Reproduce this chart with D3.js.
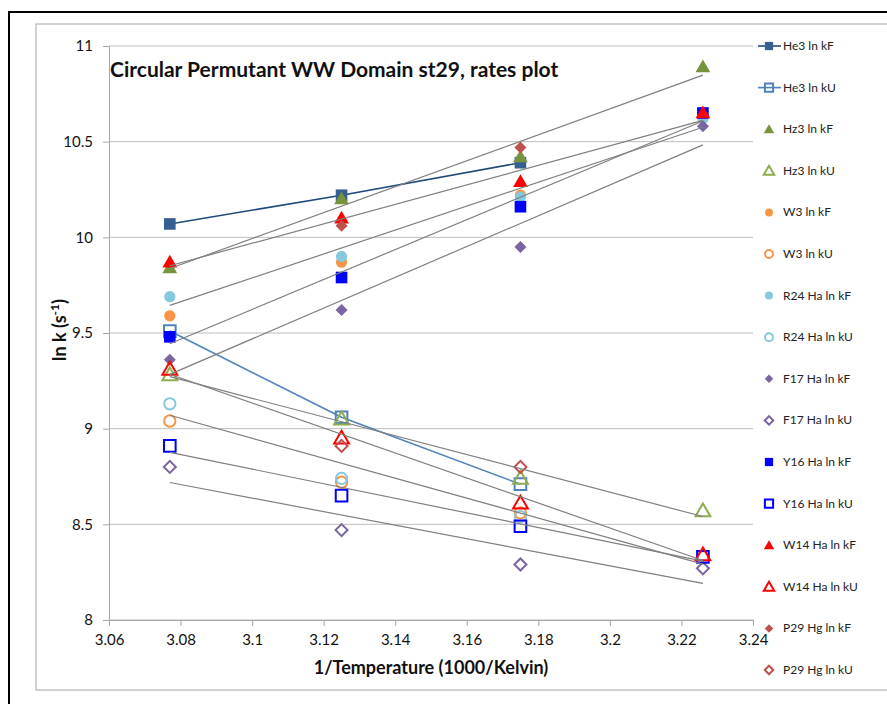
<!DOCTYPE html>
<html>
<head>
<meta charset="utf-8">
<script src="https://cdn.jsdelivr.net/npm/d3@7"></script>
<style>
  body { margin: 0; background: #fff; }
  svg text { font-family: Lato, "Open Sans", sans-serif; }
</style>
</head>
<body>
<div class="chart"></div>
<script>
// 1000/T for the four temperatures (325, 320, 315, 310 K)
var invTemp = [3.077, 3.125, 3.175, 3.226];

// ln k values (null = no point)
var he3KF = [10.07, 10.22, 10.39, null];
var he3KU = [9.51, 9.06, 8.71, null];
var hz3KF = [9.84, 10.20, 10.42, 10.89];
var hz3KU = [9.28, 9.05, 8.74, 8.57];
var w3KF = [9.59, 9.87, 10.22, null];
var w3KU = [9.04, 8.72, 8.56, null];
var r24KF = [9.69, 9.90, 10.21, 10.62];
var r24KU = [9.13, 8.74, 8.54, 8.33];
var f17KF = [9.36, 9.62, 9.95, 10.58];
var f17KU = [8.80, 8.47, 8.29, 8.27];
var y16KF = [9.48, 9.79, 10.16, 10.65];
var y16KU = [8.91, 8.65, 8.49, 8.33];
var w14KF = [9.87, 10.10, 10.29, 10.65];
var w14KU = [9.31, 8.95, 8.61, 8.34];
var p29KF = [null, 10.06, 10.47, null];
var p29KU = [null, 8.91, 8.80, null];

var seriesNames = ["He3 ln kF", "He3 ln kU", "Hz3 ln kF", "Hz3 ln kU", "W3 ln kF", "W3 ln kU",
  "R24 Ha ln kF", "R24 Ha ln kU", "F17 Ha ln kF", "F17 Ha ln kU", "Y16 Ha ln kF", "Y16 Ha ln kU",
  "W14 Ha ln kF", "W14 Ha ln kU", "P29 Hg ln kF", "P29 Hg ln kU"];
var seriesValues = [he3KF, he3KU, hz3KF, hz3KU, w3KF, w3KU, r24KF, r24KU,
  f17KF, f17KU, y16KF, y16KU, w14KF, w14KU, p29KF, p29KU];

var xTicks = [3.06, 3.08, 3.1, 3.12, 3.14, 3.16, 3.18, 3.2, 3.22, 3.24];
var yTicks = [8, 8.5, 9, 9.5, 10, 10.5, 11];

// styles per series, same order as names
var styles = [
  {color: "#376092", shape: "square", filled: true, line: "#1f4a7a"},
  {color: "#4f81bd", shape: "square", filled: false, line: "#4f81bd"},
  {color: "#77933c", shape: "triangle", filled: true, trend: true},
  {color: "#8fad4f", shape: "triangle", filled: false, trend: true},
  {color: "#f79646", shape: "circle", filled: true},
  {color: "#f79646", shape: "circle", filled: false},
  {color: "#86c9dc", shape: "circle", filled: true, trend: true},
  {color: "#86c9dc", shape: "circle", filled: false, trend: true},
  {color: "#7b64a2", shape: "diamond", filled: true, trend: true},
  {color: "#7b64a2", shape: "diamond", filled: false, trend: true},
  {color: "#0000ff", shape: "square", filled: true, trend: true},
  {color: "#0000ff", shape: "square", filled: false, trend: true},
  {color: "#ff0000", shape: "triangle", filled: true, trend: true},
  {color: "#ff0000", shape: "triangle", filled: false, trend: true},
  {color: "#c0504d", shape: "diamond", filled: true},
  {color: "#c0504d", shape: "diamond", filled: false}
];

var series = seriesNames.map(function(name, i) {
  return {
    name: name,
    points: invTemp.map(function(x, j) { return {x: x, y: seriesValues[i][j]}; })
      .filter(function(p) { return p.y !== null; }),
    style: styles[i]
  };
});

var svgWidth = 887, svgHeight = 704;
var margin = {top: 46, left: 109, right: 134, bottom: 84};
var width = svgWidth - margin.left - margin.right;
var height = svgHeight - margin.top - margin.bottom;

var svg = d3.select(".chart").append("svg")
  .attr("width", svgWidth)
  .attr("height", svgHeight);

// outer frame and chart area border
svg.append("rect")
  .attr("x", 9).attr("y", 12).attr("width", 900).attr("height", 720)
  .attr("fill", "none").attr("stroke", "#000").attr("stroke-width", 2);
svg.append("rect")
  .attr("x", 36).attr("y", 24).attr("width", 880).attr("height", 666)
  .attr("fill", "#fff").attr("stroke", "#b3b3b3").attr("stroke-width", 1.2);

var chartGroup = svg.append("g")
  .attr("transform", `translate(${margin.left}, ${margin.top})`);

var xScale = d3.scaleLinear().domain([3.06, 3.24]).range([0, width]);
var yScale = d3.scaleLinear().domain([8, 11]).range([height, 0]);

// gridlines
chartGroup.append("g")
  .selectAll("line")
  .data(yTicks)
  .enter()
  .append("line")
  .attr("x1", 0).attr("x2", width)
  .attr("y1", d => yScale(d)).attr("y2", d => yScale(d))
  .attr("stroke", "#bdbdbd").attr("stroke-width", 1);

var fmt = d => String(+d.toFixed(2));

var leftAxis = d3.axisLeft(yScale).tickValues(yTicks).tickFormat(fmt).tickSize(6).tickPadding(10);
var bottomAxis = d3.axisBottom(xScale).tickValues(xTicks).tickFormat(fmt).tickSize(6).tickPadding(8);

var yAxis = chartGroup.append("g").call(leftAxis);
var xAxis = chartGroup.append("g")
  .attr("transform", `translate(0, ${height})`)
  .call(bottomAxis);

[xAxis, yAxis].forEach(function(ax) {
  ax.select(".domain").attr("stroke", "#a6a6a6");
  ax.selectAll(".tick line").attr("stroke", "#a6a6a6");
  ax.selectAll(".tick text").attr("fill", "#111").style("font-size", "15px");
});

// marker drawing; the diamond is a square turned 45 degrees
var symbolTypes = {
  square: d3.symbolSquare,
  triangle: d3.symbolTriangle,
  circle: d3.symbolCircle,
  diamond: d3.symbolSquare
};
var symbolSizes = {square: 135, triangle: 95, circle: 100, diamond: 72};

function drawMarker(g, st, scale) {
  var sym = d3.symbol().type(symbolTypes[st.shape]).size(symbolSizes[st.shape] * scale);
  var path = g.append("path").attr("d", sym());
  if (st.filled) {
    path.attr("fill", st.color);
  } else {
    path.attr("fill", "none").attr("stroke", st.color).attr("stroke-width", 2);
  }
  if (st.shape === "diamond") path.attr("transform", "rotate(45)");
  if (st.shape === "triangle") path.attr("transform", "translate(0,1)");
  return path;
}

// connecting lines (He3 only)
var lineGen = d3.line().x(d => xScale(d.x)).y(d => yScale(d.y));
series.filter(s => s.style.line).forEach(function(s) {
  chartGroup.append("path")
    .datum(s.points)
    .attr("d", lineGen)
    .attr("fill", "none")
    .attr("stroke", s.style.line)
    .attr("stroke-width", 1.6);
});

// markers in series order
series.forEach(function(s) {
  s.points.forEach(function(p) {
    var g = chartGroup.append("g")
      .attr("transform", `translate(${xScale(p.x)}, ${yScale(p.y)})`);
    drawMarker(g, s.style, 1);
  });
});

// linear trendlines (least squares over each series' own points)
series.filter(s => s.style.trend).forEach(function(s) {
  var mx = d3.mean(s.points, p => p.x);
  var my = d3.mean(s.points, p => p.y);
  var sxy = d3.sum(s.points, p => (p.x - mx) * (p.y - my));
  var sxx = d3.sum(s.points, p => (p.x - mx) * (p.x - mx));
  var slope = sxy / sxx;
  var ext = d3.extent(s.points, p => p.x);
  var ends = ext.map(x => ({x: x, y: my + slope * (x - mx)}));
  chartGroup.append("path")
    .datum(ends)
    .attr("d", lineGen)
    .attr("fill", "none")
    .attr("stroke", "#7f7f7f")
    .attr("stroke-width", 1.2);
});

// title
chartGroup.append("text")
  .attr("x", 1)
  .attr("y", 31)
  .attr("font-weight", "bold")
  .style("font-size", "21px")
  .attr("fill", "#111")
  .text("Circular Permutant WW Domain st29, rates plot");

// axis titles
svg.append("text")
  .attr("x", margin.left + width / 2)
  .attr("y", 674)
  .attr("text-anchor", "middle")
  .attr("font-weight", "bold")
  .style("font-size", "18px")
  .attr("fill", "#111")
  .text("1/Temperature (1000/Kelvin)");

var yTitle = svg.append("text")
  .attr("transform", "translate(66, 330) rotate(-90)")
  .attr("text-anchor", "middle")
  .attr("font-weight", "bold")
  .style("font-size", "18px")
  .attr("fill", "#111");
yTitle.append("tspan").text("ln k (s");
yTitle.append("tspan").attr("dy", -7).style("font-size", "12px").text("-1");
yTitle.append("tspan").attr("dy", 7).text(")");

// legend
var legend = svg.append("g").attr("transform", "translate(769, 46)");
series.forEach(function(s, i) {
  var row = legend.append("g").attr("transform", `translate(0, ${i * 41.6})`);
  if (s.style.line) {
    row.append("line")
      .attr("x1", -11).attr("x2", 12)
      .attr("stroke", s.style.line).attr("stroke-width", 1.6);
  }
  drawMarker(row, s.style, 0.5);
  row.append("text")
    .attr("x", 14)
    .attr("y", 4)
    .style("font-size", "12px")
    .attr("fill", "#222")
    .text(s.name);
});
</script>
</body>
</html>
